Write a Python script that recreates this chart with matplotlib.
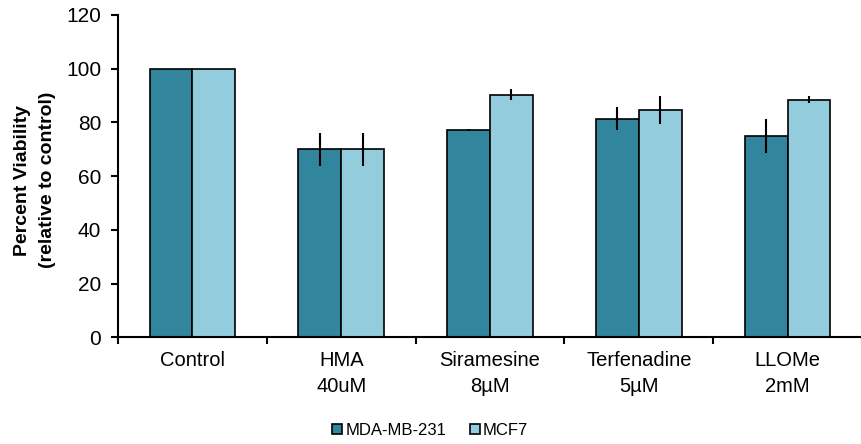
import matplotlib
matplotlib.use("Agg")
import matplotlib.pyplot as plt
from matplotlib.patches import Patch
import numpy as np

plt.rcParams['font.family'] = ['Liberation Sans', 'DejaVu Sans']

categories = ["Control", "HMA\n40uM", "Siramesine\n8\u00b5M", "Terfenadine\n5\u00b5M", "LLOMe\n2mM"]
series_names = ["MDA-MB-231", "MCF7"]
mda_values = [100, 70.0, 77.2, 81.3, 74.9]
mda_errors = [0, 6.1, 0.3, 4.3, 6.4]
mcf7_values = [100, 70.0, 90.3, 84.6, 88.4]
mcf7_errors = [0, 6.1, 2.0, 5.3, 1.3]
colors = ["#31859C", "#93CDDD"]
y_ticks = [0, 20, 40, 60, 80, 100, 120]

fig = plt.figure(figsize=(8.62, 4.44), dpi=100)
ax = fig.add_axes([118/862, 1-337.3/444, 1-118/862, (337.3-15)/444])

x = np.arange(len(categories))
w = 0.287
ax.bar(x - w/2, mda_values, w, color=colors[0], edgecolor='black', linewidth=1.2, zorder=2)
ax.bar(x + w/2, mcf7_values, w, color=colors[1], edgecolor='black', linewidth=1.2, zorder=2)
ax.errorbar(x - w/2, mda_values, yerr=mda_errors, fmt='none', ecolor='black', elinewidth=1.5, capsize=0, zorder=3)
ax.errorbar(x + w/2, mcf7_values, yerr=mcf7_errors, fmt='none', ecolor='black', elinewidth=1.5, capsize=0, zorder=3)

ax.set_xlim(-0.5, -0.5 + (862-118)/150)
ax.set_ylim(0, 120)
ax.set_yticks(y_ticks)
ax.tick_params(axis='y', labelsize=15, length=5, width=1.5, direction='out', pad=7)

ax.set_xticks(np.arange(len(categories) + 1) - 0.5)
ax.set_xticklabels([])
ax.tick_params(axis='x', which='major', length=5, width=1.5, direction='out')
ax.set_xticks(x, minor=True)
ax.set_xticklabels(categories, minor=True, fontsize=14.5, linespacing=1.45)
ax.tick_params(axis='x', which='minor', length=0, pad=10)

for s in ['top', 'right']:
    ax.spines[s].set_visible(False)
for s in ['left', 'bottom']:
    ax.spines[s].set_linewidth(1.5)

fig.text(35/862, 1-180/444, "Percent Viability\n(relative to control)", rotation=90,
         ha='center', va='center', fontsize=14, fontweight='bold', linespacing=1.6)

handles = [Patch(facecolor=colors[0], edgecolor='black', linewidth=1.2),
           Patch(facecolor=colors[1], edgecolor='black', linewidth=1.2)]
fig.legend(handles, series_names, loc='center', bbox_to_anchor=(0.499, 1-430.5/444), ncol=2,
           frameon=False, fontsize=12, handlelength=0.6, handleheight=0.6,
           handletextpad=0.2, columnspacing=1.4)

fig.savefig("out.png", dpi=100)
